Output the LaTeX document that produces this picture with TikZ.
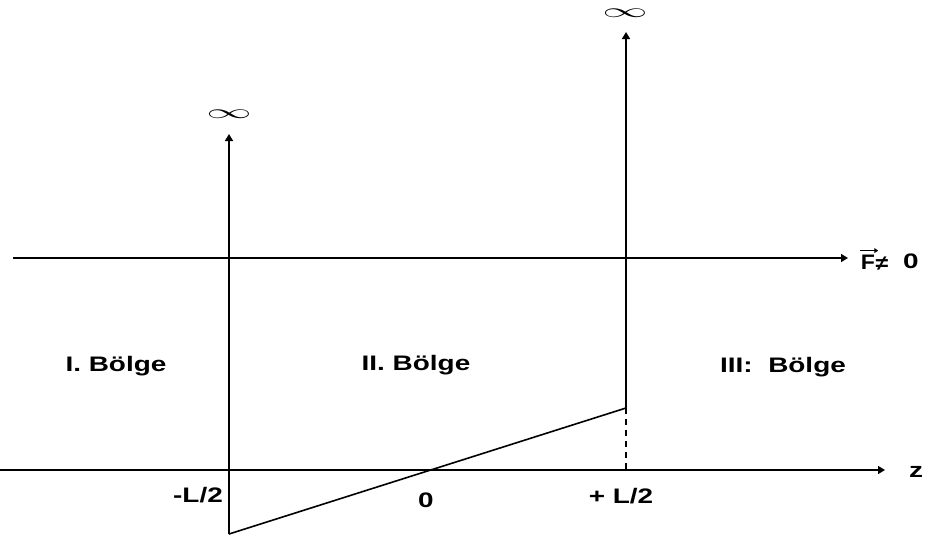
\documentclass[tikz,border=0pt]{standalone}
\usepackage{fontspec}
\setmainfont{Liberation Sans}
\usetikzlibrary{arrows.meta}
\begin{document}
\begin{tikzpicture}[x=1pt,y=-1pt,
  ln/.style={line width=1.6pt},
  arr/.style={ln,-{Triangle[length=7pt,width=8pt]}},
  lbl/.style={inner sep=0pt,font=\fontsize{21}{24}\selectfont\bfseries},
  inf/.style={inner sep=0pt,font=\fontsize{17}{20}\selectfont}]
\useasboundingbox (0,0) rectangle (932,539);
% coordinates
\coordinate (zs) at (0,470);
\coordinate (ze) at (885,470);
\coordinate (fs) at (13,258);
\coordinate (fe) at (848,258);
\coordinate (lb) at (229,534);
\coordinate (lt) at (229,134);
\coordinate (rb) at (626,408);
\coordinate (rt) at (626,32);
\coordinate (rz) at (626,470);
% axes
\draw[arr] (zs) -- (ze);
\draw[arr] (fs) -- (fe);
% walls
\draw[arr] (lb) -- (lt);
\draw[arr] (rb) -- (rt);
\draw[ln] (lb) -- (rb);
\draw[ln,dash pattern=on 6pt off 5pt] (rb) -- (rz);
% infinity
\node[inf] (inf1) at (229,114) {\scalebox{2.6}[1.15]{$\infty$}};
\node[inf] (inf2) at (625,13) {\scalebox{2.6}[1.15]{$\infty$}};
% labels
\node[lbl] (z) at (916,472) {\scalebox{1.33}[1]{z}};
\node[lbl] (F) at (868,262) {\scalebox{1.1}[1]{F}};
\draw[line width=1.4pt,-{Triangle[length=4pt,width=5pt]}] ([xshift=-1pt,yshift=4pt]F.north west) -- ([xshift=3pt,yshift=4pt]F.north east);
\node[lbl] (ne) at (882,264) {\scalebox{1.1}[1]{≠}};
\node[lbl] (zero) at (911,261) {\scalebox{1.33}[1]{0}};
\node[lbl] (r1) at (116,366) {\scalebox{1.33}[1]{I. Bölge}};
\node[lbl] (r2) at (416,365) {\scalebox{1.33}[1]{II. Bölge}};
\node[lbl] (r3) at (783,367) {\scalebox{1.33}[1]{III:\ \ Bölge}};
\node[lbl,anchor=east] (m) at (223,495) {\scalebox{1.33}[1]{-L/2}};
\node[lbl] (o) at (426,500) {\scalebox{1.33}[1]{0}};
\node[lbl] (p) at (621,496) {\scalebox{1.33}[1]{+ L/2}};
\end{tikzpicture}
\end{document}
